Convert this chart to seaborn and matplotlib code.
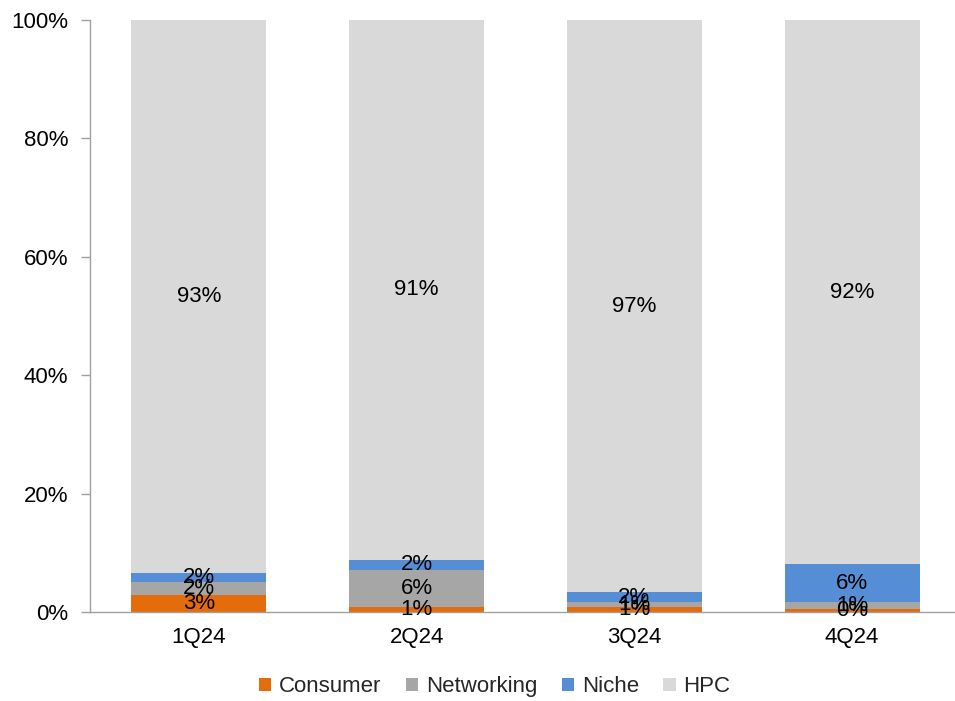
import matplotlib
matplotlib.use("Agg")
import matplotlib.pyplot as plt
import seaborn as sns
import pandas as pd
import numpy as np
from matplotlib.patches import Patch
from matplotlib.ticker import FuncFormatter

quarters = ["1Q24", "2Q24", "3Q24", "4Q24"]
series = ["Consumer", "Networking", "Niche", "HPC"]
consumer = [2.8, 0.9, 0.8, 0.45]
networking = [2.2, 6.2, 0.9, 1.2]
niche = [1.6, 1.7, 1.6, 6.4]
hpc = [93.4, 91.2, 96.7, 91.9]
colors = ["#E46C0A", "#A6A6A6", "#558ED5", "#D9D9D9"]

sns.set_theme(style="white")
plt.rcParams["font.family"] = ["Liberation Sans", "DejaVu Sans"]

vals = np.array([consumer, networking, niche, hpc])
cum = np.cumsum(vals, axis=0)

fig = plt.figure(figsize=(9.55, 7.01), dpi=100)
ax = fig.add_axes([0.0942, 0.127, 0.912, 0.8445])

# draw from top (largest cumulative) to bottom
for i in range(len(series) - 1, -1, -1):
    df = pd.DataFrame({"quarter": quarters, "value": cum[i]})
    sns.barplot(data=df, x="quarter", y="value", color=colors[i], width=0.62,
                saturation=1, edgecolor="none", linewidth=0, ax=ax)

for j in range(len(quarters)):
    for i in range(len(series)):
        bottom = cum[i][j] - vals[i][j]
        ax.text(j, bottom + vals[i][j] / 2, f"{vals[i][j]:.0f}%", ha="center",
                va="center", fontsize=16, color="black")

ax.set_ylim(0, 100)
ax.set_xlim(-0.5, 3.5)
ax.set_yticks([0, 20, 40, 60, 80, 100])
ax.yaxis.set_major_formatter(FuncFormatter(lambda v, p: f"{v:.0f}%"))
ax.set_xlabel("")
ax.set_ylabel("")
ax.set_xticks([0, 1, 2, 3])
ax.set_xticklabels(quarters)
ax.set_xticks([-0.5, 0.5, 1.5, 2.5, 3.5], minor=True)
ax.tick_params(axis="x", which="major", length=0, labelsize=16, pad=11, labelcolor="black")
ax.tick_params(axis="x", which="minor", length=6, width=1, color="#A0A0A0", direction="out")
ax.tick_params(axis="y", which="major", length=6.5, width=1, color="#A0A0A0", direction="out",
               labelsize=16, left=True, pad=9, labelcolor="black")
for s in ["top", "right"]:
    ax.spines[s].set_visible(False)
for s in ["left", "bottom"]:
    ax.spines[s].set_color("#A0A0A0")
    ax.spines[s].set_linewidth(1)
ax.grid(False)

handles = [Patch(facecolor=c, edgecolor="none", label=s) for s, c in zip(series, colors)]
fig.legend(handles=handles, loc="center", bbox_to_anchor=(0.518, 0.02), ncol=4, frameon=False,
           fontsize=16, handlelength=0.55, handleheight=0.55, handletextpad=0.35,
           columnspacing=1.1)

fig.savefig("out.png", dpi=100)
